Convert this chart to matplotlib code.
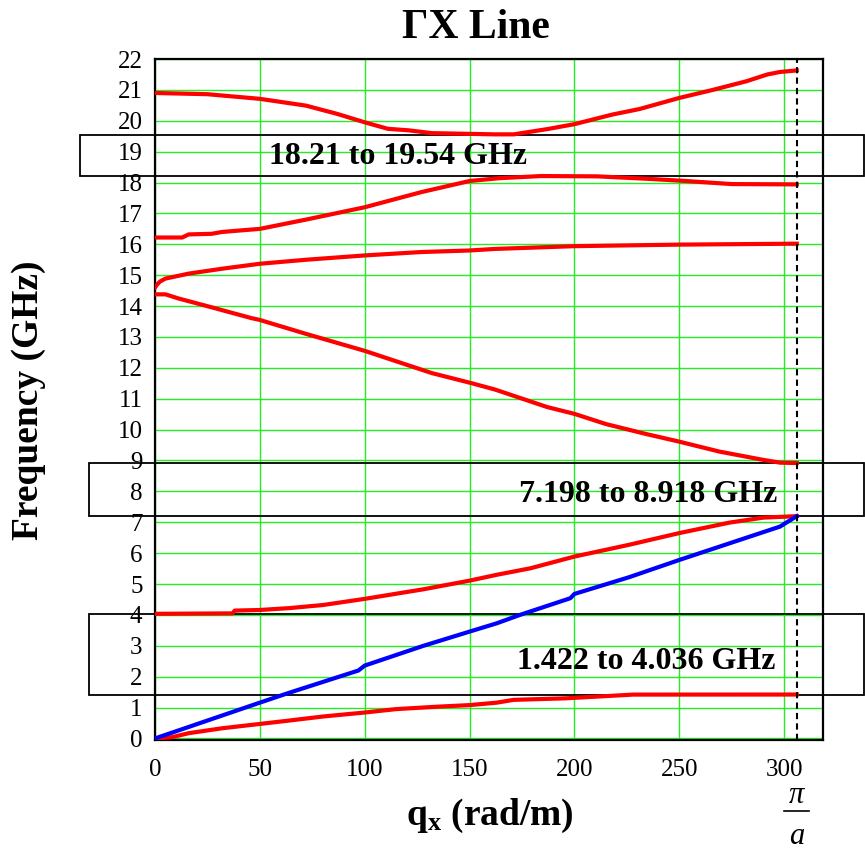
import matplotlib
matplotlib.use('Agg')
import matplotlib.pyplot as plt
from matplotlib.patches import Rectangle

plt.rcParams['font.family'] = 'Liberation Serif'
plt.rcParams['mathtext.fontset'] = 'custom'
plt.rcParams['mathtext.rm'] = 'Liberation Serif'
plt.rcParams['mathtext.it'] = 'Liberation Serif:italic'
plt.rcParams['mathtext.bf'] = 'Liberation Serif:bold'

PI_OVER_A = 306

# band 1 (red, lowest)
q1 = [0, 8, 16, 32, 50, 64, 80, 100, 115, 135, 150, 163, 171, 196, 228, 306]
f1 = [0, 0.04, 0.17, 0.33, 0.47, 0.58, 0.71, 0.84, 0.95, 1.03, 1.08, 1.16, 1.25, 1.30, 1.42, 1.422]

# blue band
qb = [0, 50, 64, 97, 100, 128, 150, 163, 174, 198, 200, 226, 250, 274, 298, 306]
fb = [0, 1.16, 1.48, 2.20, 2.36, 3.0, 3.46, 3.73, 4.0, 4.54, 4.68, 5.22, 5.78, 6.32, 6.86, 7.198]

# band 2
q2 = [0, 37, 38, 50, 64, 80, 100, 128, 150, 163, 179, 200, 226, 250, 274, 290, 306]
f2 = [4.036, 4.05, 4.14, 4.16, 4.22, 4.32, 4.52, 4.83, 5.11, 5.3, 5.51, 5.89, 6.27, 6.65, 6.99, 7.15, 7.198]

# band 3
q3 = [0, 5, 11, 27, 46, 50, 72, 100, 132, 150, 162, 187, 200, 215, 234, 250, 269, 290, 298, 306]
f3 = [14.38, 14.38, 14.25, 13.96, 13.61, 13.55, 13.10, 12.55, 11.83, 11.52, 11.3, 10.73, 10.51,
      10.18, 9.86, 9.61, 9.29, 9.02, 8.93, 8.918]

# band 4
q4 = [0, 1, 2.5, 5, 16, 32, 50, 72, 100, 127, 150, 162, 200, 250, 306]
f4 = [14.6, 14.7, 14.8, 14.89, 15.05, 15.21, 15.37, 15.5, 15.64, 15.75, 15.8, 15.85, 15.94, 15.99, 16.02]

# band 5
q5 = [0, 13, 16, 27, 32, 50, 72, 100, 127, 150, 164, 184, 211, 235, 253, 275, 306]
f5 = [16.22, 16.22, 16.32, 16.34, 16.40, 16.5, 16.8, 17.2, 17.69, 18.05, 18.14, 18.21, 18.2,
      18.12, 18.05, 17.95, 17.94]

# band 6
q6 = [0, 25, 50, 72, 87, 100, 111, 121, 132, 162, 171, 187, 200, 218, 231, 250, 266, 282, 292, 298, 306]
f6 = [20.9, 20.86, 20.71, 20.49, 20.22, 19.95, 19.74, 19.69, 19.6, 19.56, 19.56, 19.73, 19.89,
      20.2, 20.38, 20.74, 21.0, 21.28, 21.5, 21.58, 21.63]

gap_lo = [1.422, 7.198, 18.21]
gap_hi = [4.036, 8.918, 19.54]

x_ticks = [0, 50, 100, 150, 200, 250, 300]
y_ticks = list(range(0, 23))

fig = plt.figure(figsize=(8.65, 8.52), dpi=100)
ax = fig.add_axes([155 / 865, 1 - 740 / 852, 668 / 865, 681 / 852])
ax.set_xlim(0, 318.5)
ax.set_ylim(-0.05, 22)
ax.set_xticks(x_ticks)
ax.set_yticks(y_ticks)
ax.tick_params(axis='both', length=0, labelsize=18)
ax.tick_params(axis='x', pad=14)
ax.tick_params(axis='y', pad=9)
ax.grid(True, color='#22ee22', linewidth=1.0, zorder=0)
ax.set_axisbelow(True)
for s in ax.spines.values():
    s.set_linewidth(1.6)
    s.set_color('black')

# band gap boxes
box_left = [-31.3, -31.3, -35.7]
for lo, hi, left in zip(gap_lo, gap_hi, box_left):
    r = Rectangle((left, lo), 338 - left, hi - lo, fill=False, edgecolor='black',
                  linewidth=1.3, clip_on=False, zorder=2)
    ax.add_patch(r)

ax.plot(q1, f1, color='red', linewidth=3, zorder=3)
ax.plot(q2, f2, color='red', linewidth=3, zorder=3)
ax.plot(q3, f3, color='red', linewidth=3, zorder=3)
ax.plot(q4, f4, color='red', linewidth=3, zorder=3)
ax.plot(q5, f5, color='red', linewidth=3, zorder=3)
ax.plot(q6, f6, color='red', linewidth=3, zorder=3)
ax.plot(qb, fb, color='blue', linewidth=3, zorder=4)

ax.axvline(PI_OVER_A, color='black', linestyle=(0, (3, 2)), linewidth=1.5, zorder=5)

label_pos = [(234, 2.5), (235, 7.89), (116, 18.84)]
for lo, hi, (lx, ly) in zip(gap_lo, gap_hi, label_pos):
    ax.text(lx, ly, '{} to {} GHz'.format(lo, hi), ha='center', va='center',
            fontsize=23, fontweight='bold', zorder=6)

# pi/a marker under the axis
tr = ax.get_xaxis_transform()
ax.text(PI_OVER_A, -0.082, '\u03c0', transform=tr, ha='center', va='center',
        fontsize=22, fontstyle='italic', clip_on=False)
ax.plot([PI_OVER_A - 6, PI_OVER_A + 6], [-0.104, -0.104], transform=tr, color='black',
        linewidth=1.2, clip_on=False)
ax.text(PI_OVER_A, -0.142, 'a', transform=tr, ha='center', va='center',
        fontsize=22, fontstyle='italic', clip_on=False)

fig.text(476 / 865, 1 - 38 / 852, '\u0393X Line', ha='center', va='baseline',
         fontsize=30, fontweight='bold')
ax.set_ylabel('Frequency (GHz)', fontsize=27, fontweight='bold')
ax.yaxis.set_label_coords(29 / 865, 1 - 400 / 852, transform=fig.transFigure)
ax.yaxis.label.set_va('center')
ax.set_xlabel(r'$\mathbf{q}_\mathbf{x}$ (rad/m)', fontsize=27, fontweight='bold')
ax.xaxis.set_label_coords(490 / 865, 1 - 797 / 852, transform=fig.transFigure)

fig.savefig('out.png', dpi=100)
